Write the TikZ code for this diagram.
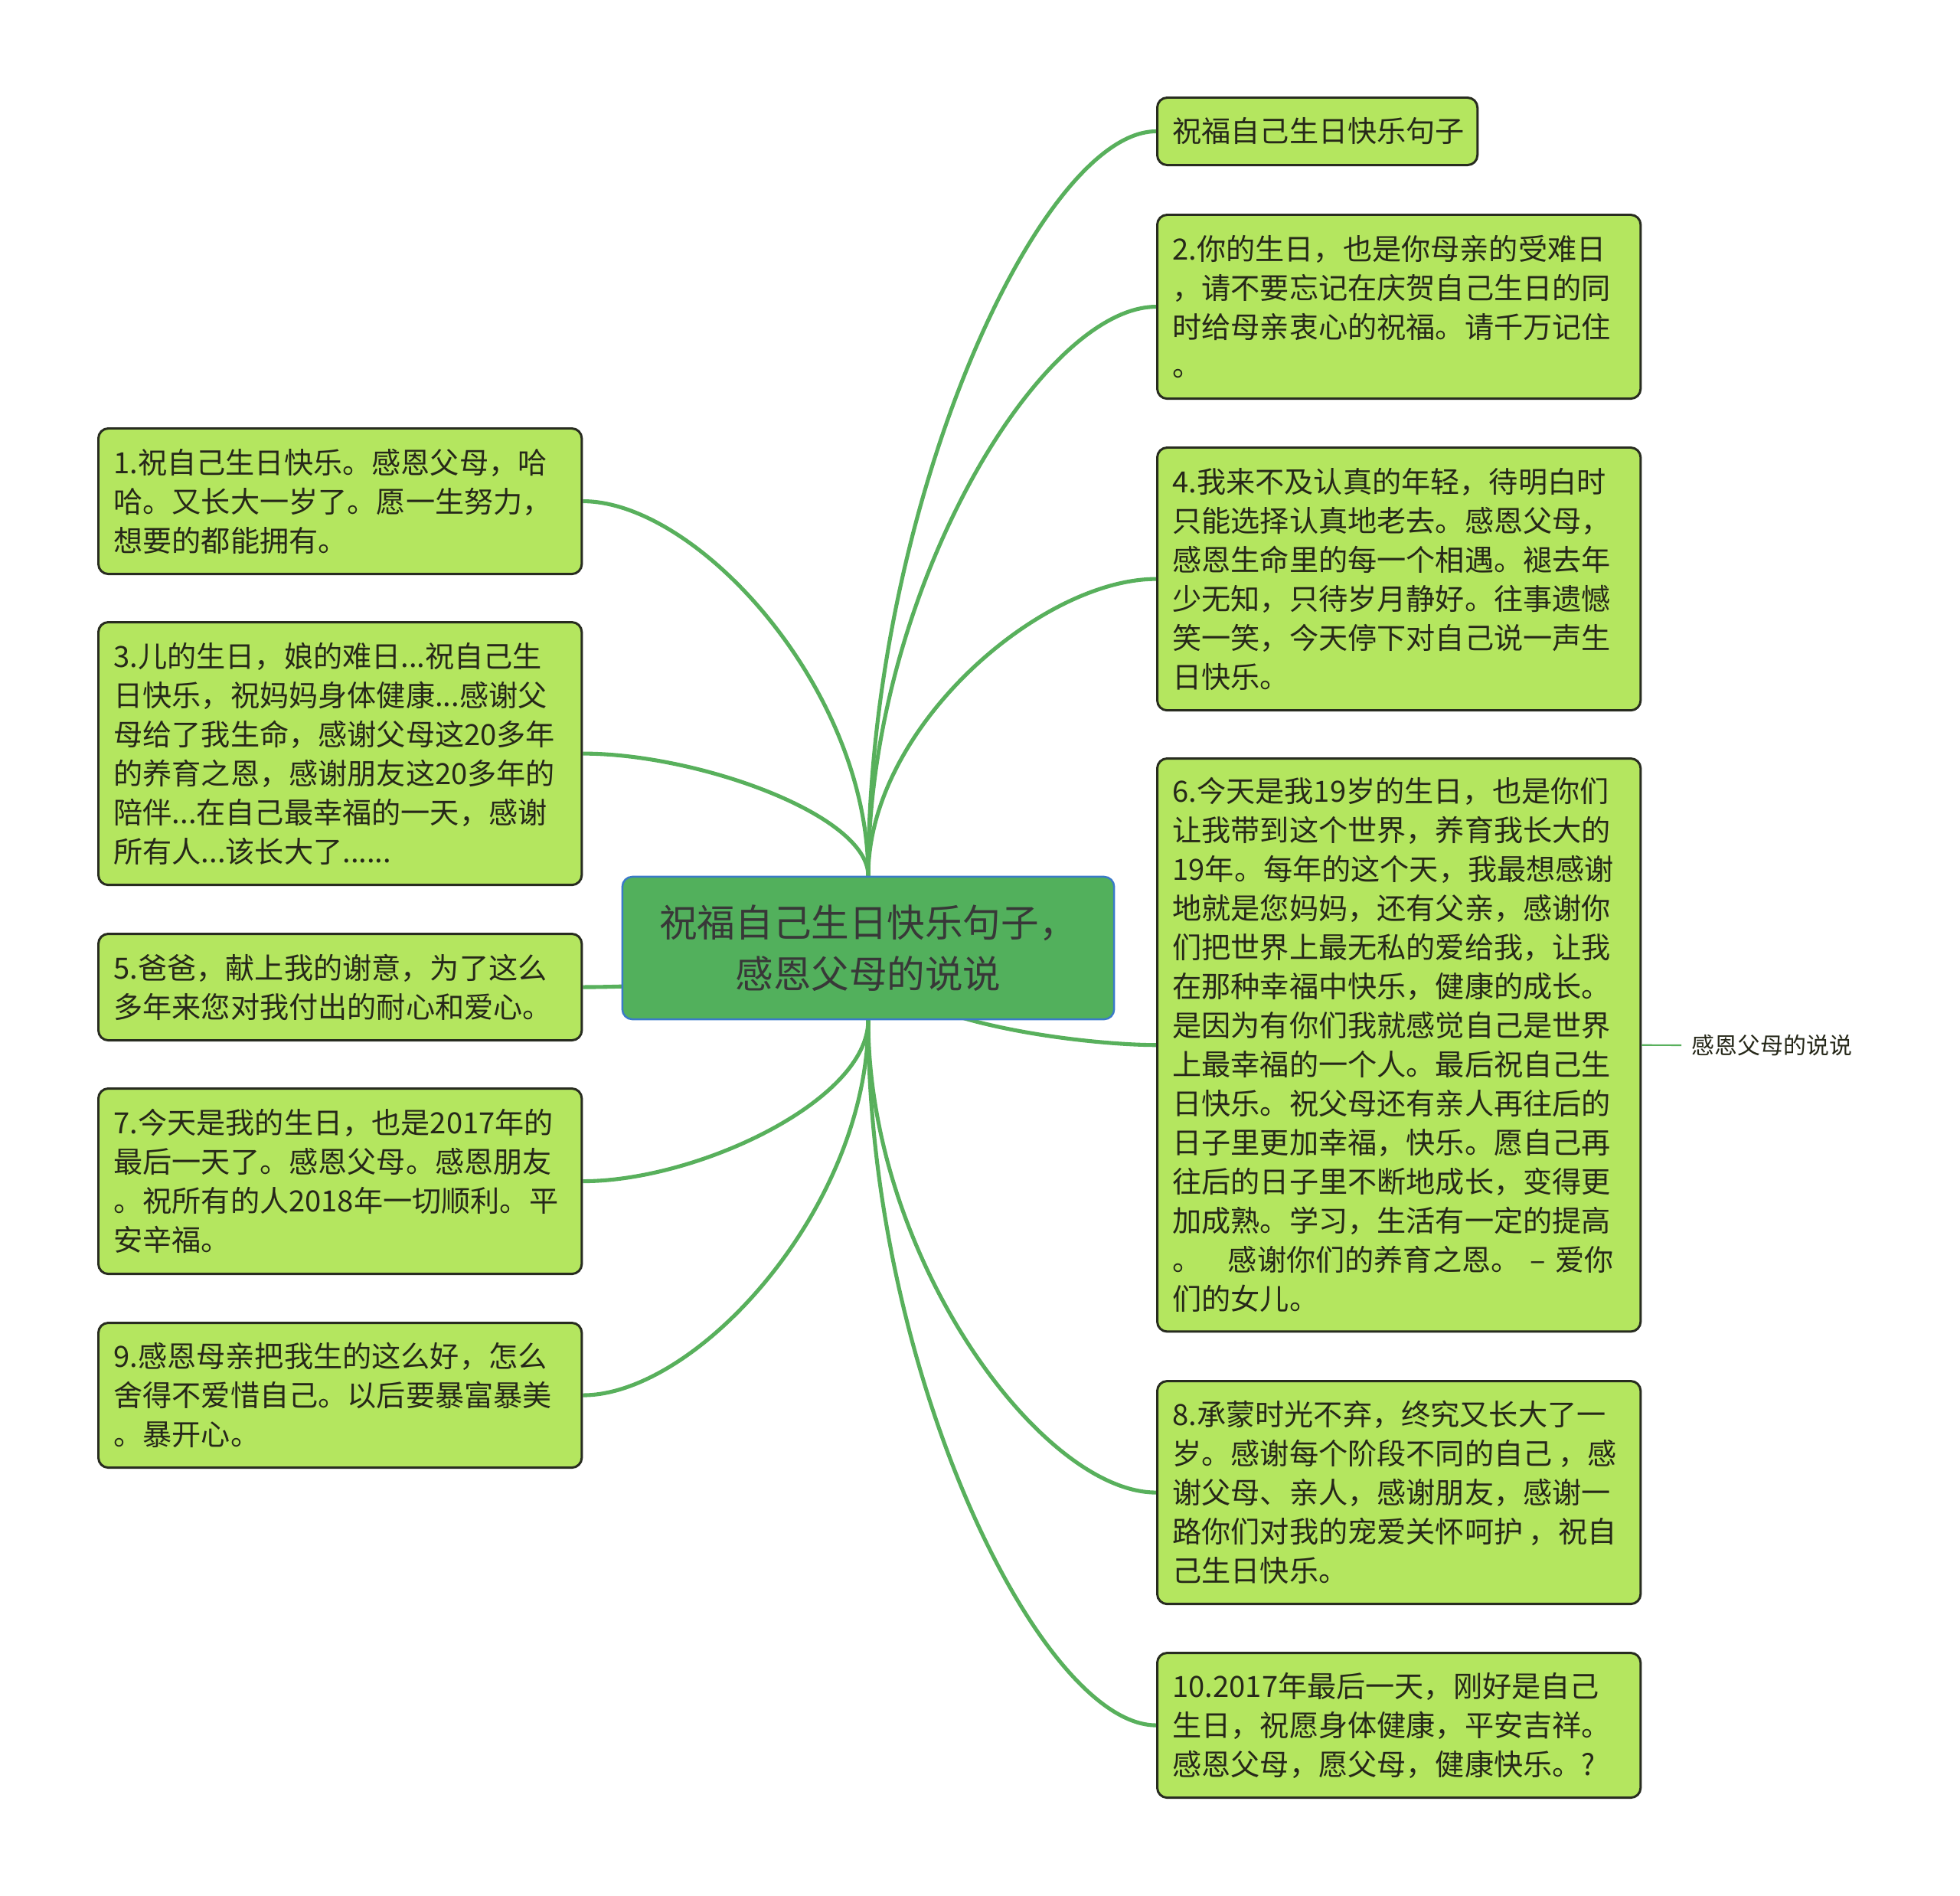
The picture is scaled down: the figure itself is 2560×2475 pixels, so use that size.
\documentclass[tikz,border=0pt]{standalone}
\usepackage{fontspec}
\setmainfont{Noto Sans CJK SC}
\usetikzlibrary{calc,backgrounds}
\definecolor{linkgreen}{RGB}{88,176,92}
\definecolor{rootfill}{RGB}{82,176,92}
\definecolor{rootedge}{RGB}{58,122,200}
\definecolor{leaffill}{RGB}{180,230,95}
\definecolor{leafedge}{RGB}{40,44,32}
\definecolor{leaftext}{RGB}{38,40,25}

\begin{document}
\begin{tikzpicture}[x=0.01cm,y=-0.01cm,
  leaf/.style={draw=leafedge, line width=0.85pt, fill=leaffill, rounded corners=0.13cm,
    anchor=north west, text width=5.91cm, inner xsep=0.2cm, inner ysep=0pt,
    align=left, text=leaftext, font=\fontsize{10.85}{14.5}\selectfont},
  root/.style={draw=rootedge, line width=0.7pt, fill=rootfill, rounded corners=0.13cm,
    minimum width=6.42cm, minimum height=1.86cm, align=center, text=black!78,
    font=\fontsize{14.1}{19}\selectfont},
  tag/.style={anchor=west, inner xsep=0.13cm, text=leaftext, font=\fontsize{8.5}{10}\selectfont},
  link/.style={draw=linkgreen, line width=1.45pt},
  thinlink/.style={draw=linkgreen, line width=0.6pt},
  branch/.style={to path={let \p1=(\tikztostart), \p2=(\tikztotarget) in
    .. controls (\x1,{0.5*(\y1+\y2)}) and ({0.6*\x2+0.4*\x1},\y2) .. (\tikztotarget)}},
  sidebranch/.style={to path={let \p1=(\tikztostart), \p2=(\tikztotarget) in
    .. controls (\x1,{\y1+0.75*(\y2-\y1)}) and ({\x1+0.75*(\x2-\x1)},\y2) .. (\tikztotarget)}}]
\useasboundingbox (0,0) rectangle (2560,2475);

\node[root] (root) at (1134,1238) {祝福自己生日快乐句子，\\感恩父母的说说};

% right side
\node[leaf, text width=3.78cm, minimum height=0.88cm] (b0) at (1510,126) {祝福自己生日快乐句子};
\node[leaf, minimum height=2.40cm] (b2) at (1510,279) {2.你的生日，也是你母亲的受难日\\，请不要忘记在庆贺自己生日的同\\时给母亲衷心的祝福。请千万记住\\。};
\node[leaf, minimum height=3.43cm] (b4) at (1510,583) {4.我来不及认真的年轻，待明白时\\只能选择认真地老去。感恩父母，\\感恩生命里的每一个相遇。褪去年\\少无知，只待岁月静好。往事遗憾\\笑一笑，今天停下对自己说一声生\\日快乐。};
\node[leaf, minimum height=7.48cm] (b6) at (1510,989) {6.今天是我19岁的生日，也是你们\\让我带到这个世界，养育我长大的\\19年。每年的这个天，我最想感谢\\地就是您妈妈，还有父亲，感谢你\\们把世界上最无私的爱给我，让我\\在那种幸福中快乐，健康的成长。\\是因为有你们我就感觉自己是世界\\上最幸福的一个人。最后祝自己生\\日快乐。祝父母还有亲人再往后的\\日子里更加幸福，快乐。愿自己再\\往后的日子里不断地成长，变得更\\加成熟。学习，生活有一定的提高\\。\hspace{0.9em}感谢你们的养育之恩。 – 爱你\\们的女儿。};
\node[leaf, minimum height=2.91cm] (b8) at (1510,1802) {8.承蒙时光不弃，终究又长大了一\\岁。感谢每个阶段不同的自己\hspace{0.2em}，感\\谢父母、亲人，感谢朋友，感谢一\\路你们对我的宠爱关怀呵护\hspace{0.2em}，祝自\\己生日快乐。};
\node[leaf, minimum height=1.89cm] (b10) at (1510,2157) {10.2017年最后一天，刚好是自己\\生日，祝愿身体健康，平安吉祥。\\感恩父母，愿父母，健康快乐。?};
\node[tag] (sub) at (2196,1365) {感恩父母的说说};

% left side
\node[leaf, minimum height=1.90cm] (b1) at (127,558) {1.祝自己生日快乐。感恩父母，哈\\哈。又长大一岁了。愿一生努力，\\想要的都能拥有。};
\node[leaf, minimum height=3.43cm] (b3) at (127,811) {3.儿的生日，娘的难日...祝自己生\\日快乐，祝妈妈身体健康...感谢父\\母给了我生命，感谢父母这20多年\\的养育之恩，感谢朋友这20多年的\\陪伴...在自己最幸福的一天，感谢\\所有人...该长大了......};
\node[leaf, minimum height=1.39cm] (b5) at (127,1218) {5.爸爸，献上我的谢意，为了这么\\多年来您对我付出的耐心和爱心。};
\node[leaf, minimum height=2.42cm] (b7) at (127,1420) {7.今天是我的生日，也是2017年的\\最后一天了。感恩父母。感恩朋友\\。祝所有的人2018年一切顺利。平\\安辛福。};
\node[leaf, minimum height=1.89cm] (b9) at (127,1726) {9.感恩母亲把我生的这么好，怎么\\舍得不爱惜自己。以后要暴富暴美\\。暴开心。};

\begin{scope}[on background layer]
\draw[link] (root.north) to[branch] (b0.west);
\draw[link] (root.north) to[branch] (b2.west);
\draw[link] (root.north) to[branch] (b4.west);
\draw[link] (root.center) to[sidebranch] (b6.west);
\draw[link] (root.south) to[branch] (b8.west);
\draw[link] (root.south) to[branch] (b10.west);
\draw[link] (root.north) to[branch] (b1.east);
\draw[link] (root.north) to[branch] (b3.east);
\draw[link] (root.center) to[branch] (b5.east);
\draw[link] (root.south) to[branch] (b7.east);
\draw[link] (root.south) to[branch] (b9.east);
\end{scope}
\draw[thinlink] (b6.east) -- (sub.west);
\end{tikzpicture}
\end{document}
